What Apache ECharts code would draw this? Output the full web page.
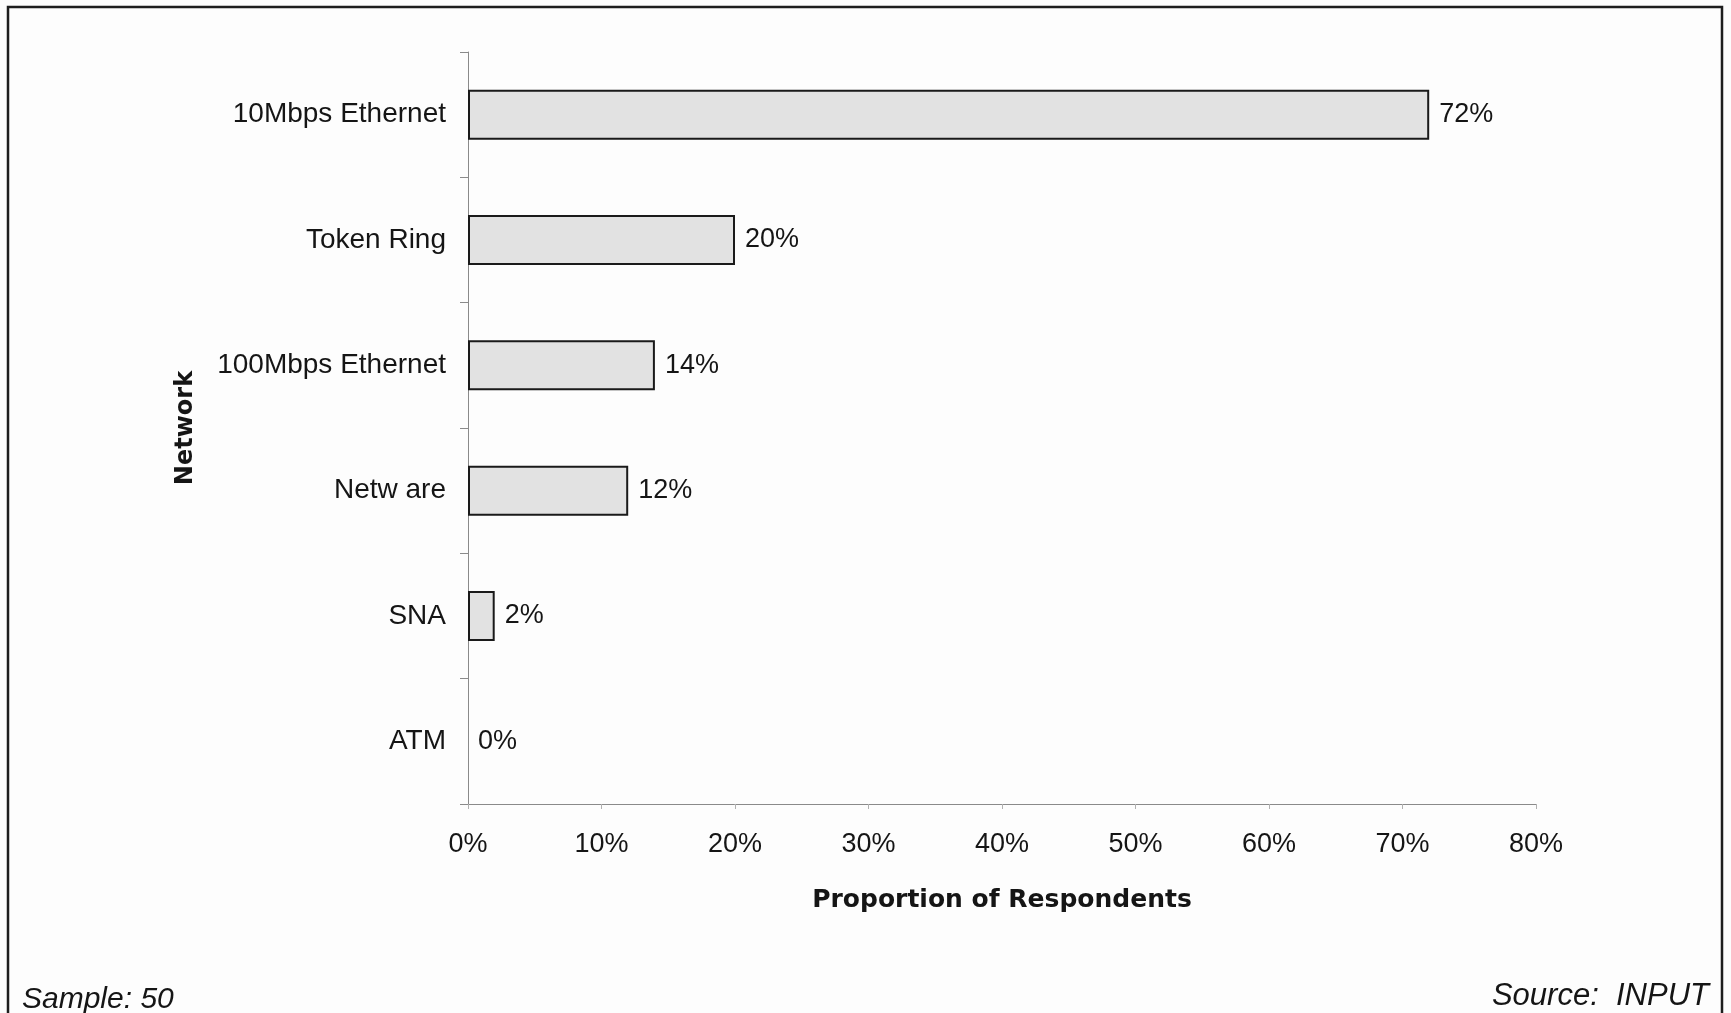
<!DOCTYPE html>
<html>
<head>
<meta charset="utf-8">
<title>Network</title>
<script src="https://cdn.jsdelivr.net/npm/echarts@6/dist/echarts.min.js"></script>
<style>
  html, body { margin: 0; padding: 0; background: #fdfdfd; }
  #chart { width: 1731px; height: 1013px; }
</style>
</head>
<body>
<div id="chart"></div>
<script>
// Network types and share of respondents (%)
const categories = ['10Mbps Ethernet', 'Token Ring', '100Mbps Ethernet', 'Netw are', 'SNA', 'ATM'];
const shares = [72, 20, 14, 12, 2, 0];
const xTicks = { min: 0, max: 80, interval: 10 };
const footLeft = 'Sample: 50';
const footRight = 'Source:  INPUT';

const chart = echarts.init(document.getElementById('chart'), null, { renderer: 'canvas' });

const baseFont = '"Liberation Sans", Arial, Helvetica, sans-serif';

// zero-valued bars get no outline, so only their label shows
const barData = shares.map(v => v === 0 ? { value: v, itemStyle: { borderWidth: 0 } } : v);

chart.setOption({
  backgroundColor: '#fdfdfd',
  animation: false,
  grid: { left: 468, right: 195, top: 52, bottom: 209, containLabel: false },
  xAxis: {
    type: 'value',
    min: xTicks.min,
    max: xTicks.max,
    interval: xTicks.interval,
    name: 'Proportion of Respondents',
    nameLocation: 'middle',
    nameGap: 84,
    nameTextStyle: { fontFamily: '"DejaVu Sans", sans-serif', fontWeight: 'bold', fontSize: 25, color: '#151515' },
    axisLine: { show: true, lineStyle: { color: '#8a8a8a', width: 1 } },
    axisTick: { show: true, length: 5, lineStyle: { color: '#b0b0b0' } },
    axisLabel: { formatter: '{value}%', fontFamily: baseFont, fontSize: 27, color: '#151515', margin: 27 },
    splitLine: { show: false }
  },
  yAxis: {
    type: 'category',
    data: categories,
    inverse: true,
    name: 'Network',
    nameLocation: 'middle',
    nameGap: 270,
    nameRotate: 90,
    nameTextStyle: { fontFamily: '"DejaVu Sans", sans-serif', fontWeight: 'bold', fontSize: 24, color: '#151515' },
    axisLine: { show: true, lineStyle: { color: '#8a8a8a', width: 1 } },
    axisTick: { show: true, length: 8, lineStyle: { color: '#8a8a8a' } },
    axisLabel: { fontFamily: baseFont, fontSize: 28, color: '#151515', margin: 22 }
  },
  series: [{
    type: 'bar',
    data: barData,
    barWidth: 50,
    itemStyle: { color: '#e2e2e2', borderColor: '#1a1a1a', borderWidth: 2 },
    label: {
      show: true,
      position: 'right',
      distance: 10,
      formatter: '{c}%',
      fontFamily: baseFont,
      fontSize: 27,
      color: '#151515'
    }
  }],
  graphic: [
    {
      type: 'rect',
      shape: { x: 8, y: 7, width: 1714, height: 1040 },
      style: { fill: 'none', stroke: '#1e1e1e', lineWidth: 2.5 },
      silent: true
    },
    {
      type: 'text',
      left: 22,
      top: 985,
      style: { text: footLeft, font: 'italic 30px "Liberation Sans", Arial, sans-serif', fill: '#151515' }
    },
    {
      type: 'text',
      right: 22,
      top: 981,
      style: { text: footRight, font: 'italic 31px "Liberation Sans", Arial, sans-serif', fill: '#151515' }
    }
  ]
});
</script>
</body>
</html>
